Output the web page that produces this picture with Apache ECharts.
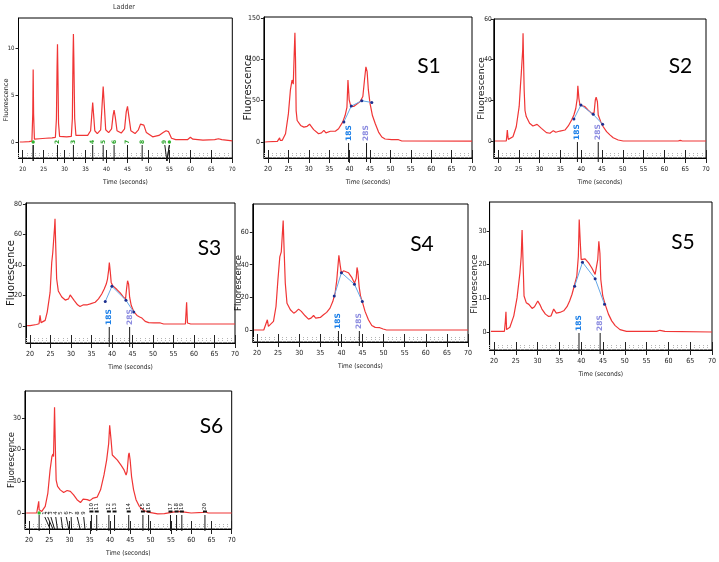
<!DOCTYPE html>
<html><head><meta charset="utf-8">
<script src="https://cdn.jsdelivr.net/npm/echarts@6/dist/echarts.min.js"></script>
<style>html,body{margin:0;padding:0;background:#fff}#c{width:719px;height:562px}</style>
</head><body><div id="c"></div>
<script>
// ---------------- data ----------------
const timeTicks = [20,25,30,35,40,45,50,55,60,65,70];

const ladderYTicks = [0,5,10];
const ladderTime = [19.3,20,21.5,22.2,22.4,22.5,22.6,22.8,24,25.5,27,27.8,28.05,28.2,28.3,28.4,28.55,28.8,30.5,31.6,31.85,32.0,32.1,32.2,32.4,32.7,35.5,36.2,36.5,36.7,36.9,37.2,37.8,38.6,38.95,39.2,39.45,39.8,40.5,41.2,41.55,41.8,42.1,42.5,43.5,44.3,44.7,45.0,45.3,45.8,46.8,47.6,48.1,48.5,48.9,49.5,51.0,52.5,53.5,54.2,54.8,55.5,56.5,59.3,60.0,60.6,63,65.8,66.7,67.5,70];
const ladderFluor = [0,0,0.05,0.1,3,7.7,3,0.3,0.35,0.4,0.45,0.5,2.5,8,10.4,7.5,2,0.6,0.55,0.6,2.5,9,11.5,9,2.5,0.7,0.7,1.2,3,4.2,3,1.2,0.9,1.3,4,5.9,4,1.3,1.0,1.4,2.8,3.4,2.6,1.2,0.95,1.4,3.2,3.8,2.8,1.2,0.9,1.3,1.9,2.1,1.8,1.0,0.55,0.7,1.0,1.2,1.1,0.4,0.25,0.25,0.5,0.3,0.2,0.25,0.35,0.25,0.12];
const ladderMarkTimes = [22.5,28.3,32.1,36.7,39.2,41.8,45.0,48.5,53.9,55.0];
const ladderMarkTicks = [22.5,28.3,32.1,36.7,39.2,41.8,45.0,48.5,54.4,54.4];
const ladderMarkLabels = ['','2','3','4','5','6','7','8','9',''];

const s1YTicks = [0,50,100,150];
const s1Time = [19.3,20,22.3,22.7,22.85,23.0,23.5,24.3,25.0,25.5,25.9,26.2,26.45,26.6,26.75,26.9,27.15,28.0,28.8,29.6,30.2,30.6,31.2,32.4,33.1,33.7,34.2,35.3,36.5,37.3,38.3,38.9,39.35,39.6,39.9,40.3,41.0,41.8,42.6,43.25,43.65,44.0,44.3,44.6,45.0,45.6,46.3,47.1,47.9,48.7,50.3,52.0,52.8,70];
const s1Fluor = [0,0.3,0.8,2.5,5,2,2,10,34,63,75,70,110,132,100,38,26,20,18,19,21.5,19,15,10,11,14,11,13,13,16,24,32,42,75,51,43,43,46,49,55,75,91,85,63,47,32,22,12,6,3.6,2.8,2.8,1.2,1.0];
const s1AreaTime = [38.6,40.4,43.0,45.45];
const s1AreaFluor = [24.3,43.4,49.9,47.8];
const s1MarkTimes = [39.75,44.15];

const s2YTicks = [0,20,40,60];
const s2Time = [19.3,20,22.0,22.15,22.25,22.4,22.5,23.6,24.4,25.1,25.4,25.6,25.8,25.95,26.03,26.15,26.3,26.5,26.8,27.6,28.4,29.4,29.8,30.45,31.65,32.5,33.3,33.9,34.9,36.1,36.9,37.7,38.25,38.7,39.05,39.2,39.45,39.7,40.1,40.9,41.7,42.5,43.1,43.4,43.6,43.9,44.1,44.7,45.3,46.1,46.9,47.7,48.9,50.1,63.3,63.8,64.3,70];
const s2Fluor = [0,0,0,3,5.4,2,0.8,2.1,7,17,27,33,33,45,53,40,25,15,12,8.7,7.4,8.2,7.9,6.2,4.1,3.8,5.1,4.3,4.9,5.4,7.4,10.3,12.8,16,21,27.2,21,17.7,18.2,16.9,15.2,13.6,13.9,20.2,21.5,19.3,12.8,9.5,7,4.6,3,1.6,0.5,0,0,0.3,0,0];
const s2AreaTime = [38.25,39.94,42.9,45.16];
const s2AreaFluor = [10.8,17.7,13.1,8.2];
const s2MarkTimes = [39.1,44.1];

const s3YTicks = [0,20,40,60,80];
const s3Time = [19.3,20,21.6,22.2,22.45,22.7,23.7,24.2,24.9,25.3,25.55,25.8,26.0,26.1,26.25,26.5,26.9,27.75,28.6,29.4,29.8,30.2,30.8,31.6,32.2,33.05,33.45,34.0,34.7,35.9,36.7,37.5,38.1,38.6,38.9,39.2,39.35,39.6,39.8,40.15,40.55,41.2,42.0,42.8,43.3,43.55,43.8,44.05,44.3,44.7,45.3,46.1,46.75,47.3,48.1,48.95,50.2,51.8,52.6,57.9,58.2,58.4,59.2,70];
const s3Fluor = [0.3,0.3,1,1.5,7,2.2,3.7,9.1,22,41.6,48,48,65,70.3,55,31,23,19,17,17.8,20.4,19.3,16.7,13.9,12.8,13.9,15.2,13.9,14.5,15.6,17.8,21,24.3,27.5,30.8,37,41.6,35,28.6,26.5,26,23.9,21.7,18.9,17.8,24.3,29.7,27.5,18.9,13.4,9.5,6.9,5.9,5.2,3,2.2,2,2,1.3,1.3,15.6,2,1.3,1.3];
const s3AreaTime = [38.35,39.98,43.4,45.3];
const s3AreaFluor = [16,26,16.9,9.1];
const s3MarkTimes = [39.33,44.3];

const s4YTicks = [0,20,40,60];
const s4Time = [19.3,20,21.6,22.0,22.45,22.7,23.15,23.9,24.5,24.95,25.4,25.75,26.0,26.2,26.45,26.7,27.1,27.9,28.7,29.3,29.85,30.5,31.4,32.2,32.8,33.4,33.9,35.0,35.75,36.5,37.3,37.95,38.5,38.9,39.1,39.4,39.7,40.0,40.5,40.9,41.65,42.45,43.1,43.5,43.7,43.9,44.2,44.55,44.95,45.6,46.4,47.2,48.0,49.1,49.9,50.7,70];
const s4Fluor = [0,0,0,0.6,6.3,2.2,2.6,5.3,14.4,30.6,44.8,47.9,46.9,67.1,46.9,28.6,16.4,12.4,10.3,11.4,12.8,11.4,8.7,6.7,7.3,8.9,7.3,7.7,9.3,10.8,13.4,17.4,22.5,30.6,36.7,45.8,39.8,34.7,36.3,36.7,35.1,32.3,28.6,31.6,38.3,35.7,26.6,20.5,17.4,11.4,6.3,2.8,1.6,1.4,0.6,0,0];
const s4AreaTime = [38.3,40.0,43.1,44.95];
const s4AreaFluor = [20.9,35.1,28,17.4];
const s4MarkTimes = [39.3,44.25];

const s5YTicks = [0,10,20,30];
const s5Time = [19.3,20,22.4,22.6,22.75,22.9,23.65,24.55,25.3,25.95,26.25,26.45,26.7,26.9,27.4,28.0,28.75,29.3,30.05,30.5,31.0,31.8,32.55,33.1,33.7,34.3,35.1,36.0,36.75,37.35,37.9,38.5,39.0,39.35,39.55,39.8,40.0,40.3,40.9,41.7,42.45,43.2,43.6,43.8,44.05,44.3,44.5,44.95,45.5,46.25,47.0,47.8,48.9,50.4,57.3,58.05,58.5,59.2,70];
const s5Fluor = [0.2,0.2,0.2,3,6,0.7,1.4,4.8,10.2,17.5,22.5,30.3,19.5,10.7,8.7,8.2,7,7.5,9.2,8.2,6.8,5.3,4.6,4.8,6.8,5.6,5.8,6.3,7.5,9.2,11.2,14.1,16.6,22.5,33.4,26.4,21.5,21,21.7,20.5,19,17.1,16.8,21.5,26.9,23.4,15.6,10.7,8.2,5.3,3.3,1.9,0.7,0.2,0.2,0.5,0.2,0.2,0];
const s5AreaTime = [38.5,40.3,43.2,45.35];
const s5AreaFluor = [13.6,20.7,15.8,8.2];
const s5MarkTimes = [39.5,44.35];

const s6YTicks = [0,10,20,30];
const s6Time = [19.3,20,21.9,22.3,22.4,22.5,22.55,23.15,24.0,24.65,25.2,25.65,25.9,26.05,26.3,26.55,26.7,27.05,27.7,28.55,29.4,29.8,30.2,30.45,31.0,31.85,32.7,33.35,33.75,34.35,35.0,35.85,36.8,37.65,38.5,39.15,39.65,39.9,40.25,40.55,41.0,41.8,42.65,43.45,43.95,44.2,44.55,44.7,44.95,45.3,45.8,46.4,47.2,48.45,49.7,51.75,53.4,55.1,56.7,58.4,60.0,62.95,63.5,64.2,70];
const s6Fluor = [0,0,0,0.5,3.7,1,0.4,0.5,2.1,6.3,13.6,17.8,18.6,17.8,33.4,17.8,10.4,8.4,7.3,6.5,7.1,7.6,6.8,7.3,5.7,4.2,3.3,4.4,5,4.2,3.9,4.7,5,7.3,12,16.7,21.9,27.7,23,18.3,17.8,16.7,15.2,13.6,12,13.1,18.3,19,16.7,11.5,7.3,4.2,2.1,0.7,0.2,-0.3,-0.2,0.2,0.5,0.3,0,0.2,0.4,0,0];
const s6LowLabelTimes = [23.9,24.6,25.4,26.6,27.9,29.2,30.4,31.9,33.5];
const s6LowPeakTimes = [25.2,25.9,26.3,27.0,28.3,29.8,30.5,32.6,33.8];
const s6LowLabels = ['1','2','3','4','5','6','7','8','9'];
const s6HighTimes = [35.4,36.7,39.7,41.1,44.6,48.1,49.5,54.9,56.4,57.7,63.4];
const s6HighLabels = ['10','11','12','13','14','15','16','17','18','19','20'];
const lowerMarkerTime = [22.5];

const sampleNames = ['S1','S2','S3','S4','S5','S6'];

// ---------------- layout (pixels / styles) ----------------
const L = [
  {left:18.5, top:18, width:213.8, height:140, yMin:-1.70, yMax:13.19, yGap:8.5, ySize:6.5, lab:6, lm:4, shift:24},
  {left:263.9, top:17, width:208.1, height:141, yMin:-19.35, yMax:151.2, yGap:10.5, ySize:10, lab:7, lm:4, shift:0},
  {left:493.8, top:19, width:212.2, height:139, yMin:-8.36, yMax:60, yGap:7.5, ySize:9.5, lab:6.5, lm:2, shift:0},
  {left:25.9, top:203, width:209.1, height:140, yMin:-11.15, yMax:80.66, yGap:9, ySize:10, lab:7, lm:4, shift:0},
  {left:252.8, top:204, width:215.2, height:138, yMin:-7.35, yMax:77.2, yGap:9.5, ySize:8.5, lab:7, lm:4, shift:20},
  {left:489.6, top:202, width:222.4, height:148, yMin:-5.35, yMax:38.6, yGap:10.5, ySize:9, lab:7, lm:3, shift:16},
  {left:24.95, top:391, width:206.75, height:138, yMin:-5.05, yMax:38.5, yGap:8.7, ySize:8.5, lab:7, lm:4, shift:0}
];
const nameCenters = [[429,66],[680.5,66.5],[209.5,248.5],[422,244.5],[683,242],[211.5,426]];

const panels = [
  {time: ladderTime, fluor: ladderFluor, yTicks: ladderYTicks},
  {time: s1Time, fluor: s1Fluor, yTicks: s1YTicks, areaT: s1AreaTime, areaF: s1AreaFluor, marks: s1MarkTimes},
  {time: s2Time, fluor: s2Fluor, yTicks: s2YTicks, areaT: s2AreaTime, areaF: s2AreaFluor, marks: s2MarkTimes},
  {time: s3Time, fluor: s3Fluor, yTicks: s3YTicks, areaT: s3AreaTime, areaF: s3AreaFluor, marks: s3MarkTimes},
  {time: s4Time, fluor: s4Fluor, yTicks: s4YTicks, areaT: s4AreaTime, areaF: s4AreaFluor, marks: s4MarkTimes},
  {time: s5Time, fluor: s5Fluor, yTicks: s5YTicks, areaT: s5AreaTime, areaF: s5AreaFluor, marks: s5MarkTimes},
  {time: s6Time, fluor: s6Fluor, yTicks: s6YTicks}
];

const narrow = '"Liberation Sans Narrow","DejaVu Sans Condensed","Liberation Sans",sans-serif';
const zip = (a, b) => a.map((v, i) => [v, b[i]]);

function markerSeries(gi, labelTimes, tickTimes, labels, colors, st) {
  return {
    type: 'custom', xAxisIndex: gi * 2, yAxisIndex: gi, clip: false, silent: true, z: 6,
    data: labelTimes.map((t, k) => [t, tickTimes[k], k]),
    renderItem: function (params, api) {
      const k = api.value(2);
      const top = api.coord([api.value(0), 0]);
      const bot = api.coord([api.value(1), 0]);
      const cs = params.coordSys;
      const yb = cs.y + cs.height;
      const kids = [{type: 'line', shape: {x1: top[0], y1: top[1] + st.lineGap, x2: bot[0], y2: yb + st.lineExt},
        style: {stroke: '#1a1a1a', lineWidth: 1}}];
      if (labels[k]) kids.push({type: 'text', x: top[0], y: top[1] + st.textDy, rotation: Math.PI / 2,
        style: {text: labels[k], fill: colors[k % colors.length], font: st.font, align: st.align, verticalAlign: 'middle'}});
      if (st.square) kids.push({type: 'rect', shape: {x: top[0] - 2, y: top[1] - 2.5, width: 4, height: 2}, style: {fill: '#111'}});
      if (st.dot) kids.push({type: 'circle', shape: {cx: top[0], cy: top[1], r: 1.7}, style: {fill: st.dot}});
      return {type: 'group', children: kids};
    }
  };
}

const grid = [], xAxis = [], yAxis = [], series = [];
panels.forEach((p, i) => {
  const g = L[i];
  grid.push({left: g.left, top: g.top, width: g.width, height: g.height, show: true,
    borderColor: '#000', borderWidth: 1, outerBoundsMode: 'none', containLabel: false});
  xAxis.push({
    type: 'value', gridIndex: i, position: 'bottom', min: 19, max: 70, interval: 1,
    axisLine: {show: true, onZero: false, lineStyle: {color: '#000', width: 1}},
    axisTick: {show: true, inside: true, length: 6, lineStyle: {color: '#b4b4b4', type: [1, 1], width: 1}},
    axisLabel: {interval: 0, margin: 8, fontSize: g.lab, fontFamily: narrow, color: '#222',
      formatter: v => timeTicks.indexOf(v) >= 0 ? String(v) : ''},
    splitLine: {show: false},
    name: 'Time (seconds)', nameLocation: 'middle', nameGap: 21, nameMoveOverlap: false,
    nameTextStyle: {fontSize: 6.5, fontFamily: narrow, color: '#222'}
  });
  xAxis.push({
    type: 'value', gridIndex: i, position: 'bottom', offset: -8, min: 19, max: 70,
    axisLine: {show: false, onZero: false}, axisLabel: {show: false}, splitLine: {show: false},
    axisTick: {show: true, customValues: timeTicks, inside: false, length: 13, lineStyle: {color: '#222', width: 1}}
  });
  yAxis.push({
    type: 'value', gridIndex: i, min: g.yMin, max: g.yMax,
    axisLine: {show: true, onZero: false, lineStyle: {color: '#000'}},
    axisTick: {show: true, customValues: p.yTicks, length: 3, lineStyle: {color: '#222'}},
    axisLabel: {customValues: p.yTicks, fontSize: g.lab, fontFamily: narrow, color: '#222', margin: g.lm},
    splitLine: {show: false},
    name: 'Fluorescence', nameLocation: 'middle', nameGap: g.yGap, nameMoveOverlap: false,
    nameTextStyle: {fontSize: g.ySize, fontFamily: '"DejaVu Sans"', color: '#1a1a1a', padding: [0, g.shift, 0, 0]}
  });
  series.push({
    type: 'line', xAxisIndex: i * 2, yAxisIndex: i, data: zip(p.time, p.fluor),
    symbol: 'none', lineStyle: {color: '#f03535', width: 1.2}, z: 3, silent: true
  });
  if (p.areaT) {
    series.push({
      type: 'line', xAxisIndex: i * 2, yAxisIndex: i, data: zip(p.areaT, p.areaF),
      symbol: 'circle', symbolSize: 3, showSymbol: true, itemStyle: {color: '#1c2f8f'},
      lineStyle: {color: '#64a8e8', width: 1}, z: 4, silent: true
    });
    series.push(markerSeries(i, p.marks, p.marks, ['18S', '28S'], ['#1a7fe8', '#8c8ce0'],
      {lineGap: 1, lineExt: 4, textDy: -1, align: 'left', font: 'bold 7.5px "DejaVu Sans"'}));
  }
});

// ladder markers
series.push(markerSeries(0, ladderMarkTimes, ladderMarkTicks, ladderMarkLabels, ['#2aa52a'],
  {lineGap: 3, lineExt: 3, textDy: 0, align: 'center', font: 'bold 6px "DejaVu Sans"'}));
series.push(markerSeries(0, [ladderMarkTimes[0], ladderMarkTimes[9]], [ladderMarkTicks[0], ladderMarkTicks[9]], ['', ''], ['#2aa52a'],
  {lineGap: 3, lineExt: 3, textDy: 0, align: 'center', font: '6px sans-serif', dot: '#2fb52f'}));
// S6 markers
series.push(markerSeries(6, s6LowLabelTimes, s6LowPeakTimes, s6LowLabels, ['#222'],
  {lineGap: 4, lineExt: 0, textDy: 0, align: 'center', font: '5.5px "DejaVu Sans"'}));
series.push(markerSeries(6, s6HighTimes, s6HighTimes, s6HighLabels, ['#222'],
  {lineGap: 2, lineExt: 2, textDy: -3, align: 'left', font: '5.5px "DejaVu Sans"', square: true}));
series.push(markerSeries(6, lowerMarkerTime, lowerMarkerTime, [''], ['#222'],
  {lineGap: 2, lineExt: 2, textDy: 0, align: 'center', font: '5px sans-serif', dot: '#2fb52f'}));

const graphic = [{type: 'text', x: 124, y: 7.5, style: {text: 'Ladder', font: '7px ' + narrow, fill: '#333', align: 'center', verticalAlign: 'middle'}}]
  .concat(sampleNames.map((n, k) => ({type: 'text', x: nameCenters[k][0], y: nameCenters[k][1],
    style: {text: n, font: '21px Lato', fill: '#000', align: 'center', verticalAlign: 'middle'}})));

const chart = echarts.init(document.getElementById('c'), null, {renderer: 'canvas'});
chart.setOption({animation: false, backgroundColor: '#fff', grid, xAxis, yAxis, series, graphic});
</script></body></html>
